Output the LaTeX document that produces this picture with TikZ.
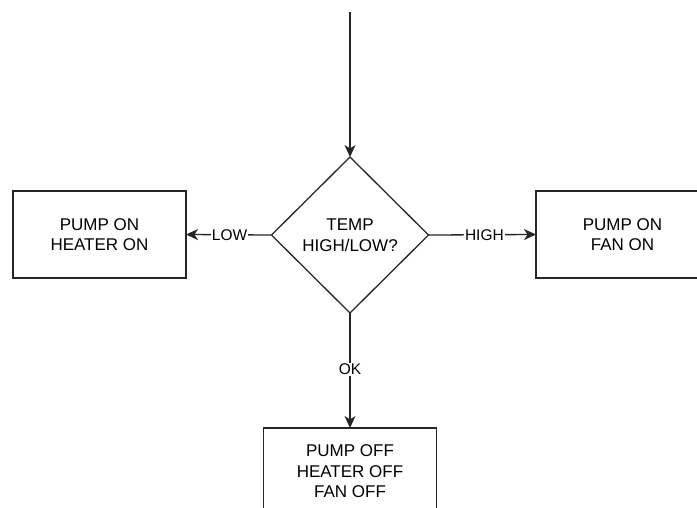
\documentclass[tikz,border=0pt]{standalone}
\usepackage{fontspec}
\setmainfont{Liberation Sans}
\usetikzlibrary{arrows.meta,shapes.geometric}
\begin{document}
\begin{tikzpicture}[x=1pt,y=-1pt,
  every node/.style={inner sep=0pt,outer sep=0pt},
  wire/.style={draw=black!85,line width=1.3pt},
  flow/.style={wire,-{Stealth[length=12pt,width=11pt,inset=3.5pt]}},
  stepbox/.style={draw=black!85,line width=1.3pt,minimum width=173pt,minimum height=87pt,
    align=center,font=\fontsize{17}{20.5}\selectfont},
  decision/.style={draw=black!85,line width=1.3pt,diamond,minimum width=157pt,minimum height=156pt,
    align=center,font=\fontsize{17}{20.5}\selectfont},
  tag/.style={fill=white,inner sep=1pt,font=\fontsize{15.5}{18}\selectfont}]
\useasboundingbox (0,0) rectangle (697,507);
\clip (0,0) rectangle (697,507);

% decision and the three outcomes
\node[decision] (temp) at (350,235) {TEMP\\HIGH/LOW?};
\node[stepbox] (heat) at (99.5,234.5) {PUMP ON\\HEATER ON};
\node[stepbox] (cool) at (622.5,234.5) {PUMP ON\\FAN ON};
\node[stepbox] (idle) at (350,471.5) {PUMP OFF\\HEATER OFF\\FAN OFF};

% incoming flow
\coordinate (entry) at (350,12);
\draw[flow] (entry) -- (temp.north);

% branches
\draw[flow] (temp.west) -- node[tag,pos=0.49] {LOW} (heat.east);
\draw[flow] (temp.east) -- node[tag,pos=0.52] {HIGH} (cool.west);
\draw[flow] (temp.south) -- node[tag,pos=0.49] {OK} (idle.north);
\end{tikzpicture}
\end{document}
